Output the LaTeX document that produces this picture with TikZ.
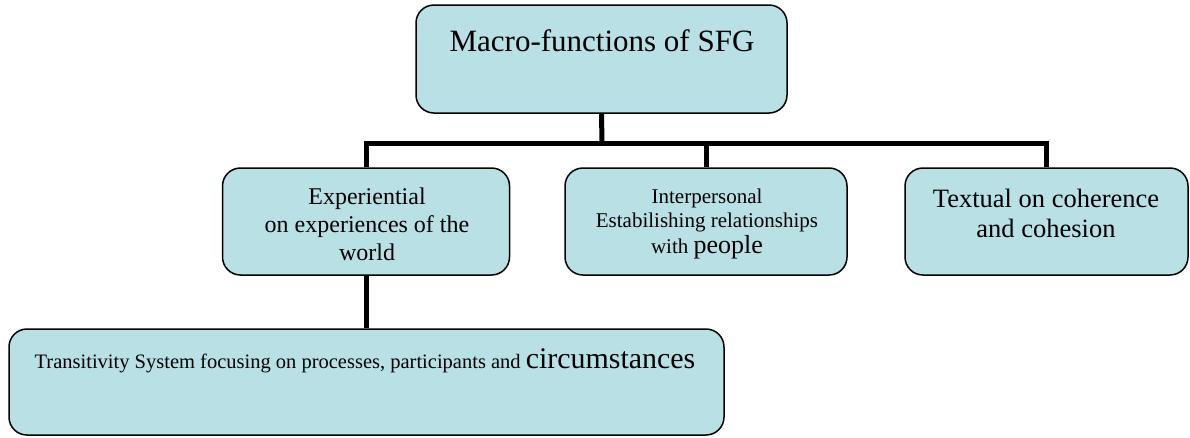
\documentclass[tikz,border=0pt]{standalone}
\usepackage{fontspec}
\setmainfont{Liberation Serif}
\definecolor{boxfill}{RGB}{185,224,228}
\begin{document}
\begin{tikzpicture}[x=1pt,y=-1pt,
  box/.style={draw=black, line width=1.5pt, fill=boxfill, rounded corners=18pt, inner sep=0pt, anchor=center},
  conn/.style={draw=black, line width=5pt},
  lbl/.style={inner sep=0pt, anchor=base, transform shape}]
\useasboundingbox (0,0) rectangle (1190,437);
\coordinate (bus) at (602,143);
% boxes
\node[box, minimum width=371pt, minimum height=108pt] (top) at (601.5,59) {};
\node[box, minimum width=287pt, minimum height=107pt] (exp) at (366,221.5) {};
\node[box, minimum width=282pt, minimum height=107pt] (inter) at (706,221.5) {};
\node[box, minimum width=283pt, minimum height=107pt] (txt) at (1046.5,221.5) {};
\node[box, minimum width=715pt, minimum height=106pt] (trans) at (366.5,382) {};
% connectors
\draw[conn] (top.south) -- (bus);
\draw[conn] (exp.north) |- (bus) -| (txt.north);
\draw[conn] (inter.north) -- (inter.north |- bus);
\draw[conn] (exp.south) -- (trans.north -| exp.south);
% texts
\node[lbl, scale=3.1, font=\fontsize{10}{12}\selectfont] (topT) at (602,51) {Macro-functions of SFG};
\node[lbl, scale=2.4, font=\fontsize{10}{11.67}\selectfont] (expT) at (367,204)
  {\begin{tabular}[t]{@{}c@{}}Experiential\\on experiences of the\\world\end{tabular}};
\node[lbl, scale=2.1, font=\fontsize{10}{11.9}\selectfont] (interT) at (707,203)
  {\begin{tabular}[t]{@{}c@{}}Interpersonal\\Estabilishing relationships\\with {\fontsize{12.4}{14}\selectfont people}\end{tabular}};
\node[lbl, scale=2.65, font=\fontsize{10}{11.32}\selectfont] (txtT) at (1046,207)
  {\begin{tabular}[t]{@{}c@{}}Textual on coherence\\and cohesion\end{tabular}};
\node[lbl, scale=2.05, font=\fontsize{10}{12}\selectfont] (transT) at (365,368)
  {Transitivity System focusing on processes, participants and {\fontsize{14.6}{16}\selectfont circumstances}};
\end{tikzpicture}
\end{document}
